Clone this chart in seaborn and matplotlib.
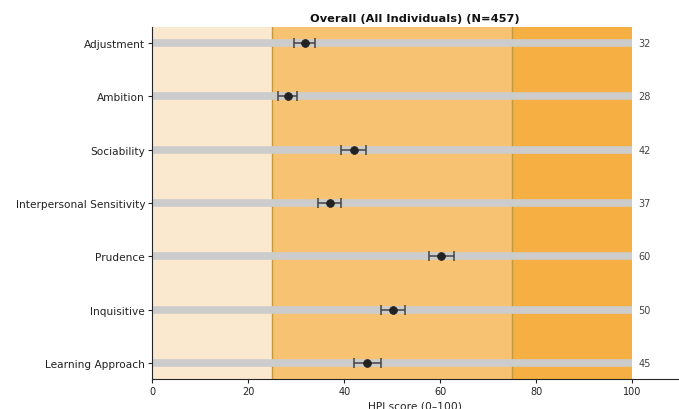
import matplotlib
matplotlib.use("Agg")
import matplotlib.pyplot as plt
import seaborn as sns
import pandas as pd

scales = ["Adjustment", "Ambition", "Sociability", "Interpersonal Sensitivity",
          "Prudence", "Inquisitive", "Learning Approach"]
means = [31.8, 28.2, 42.0, 37.0, 60.2, 50.2, 44.8]
errs = [2.2, 1.9, 2.6, 2.4, 2.6, 2.5, 2.8]
labels = [32, 28, 42, 37, 60, 50, 45]
bands = [(0, 25, "#fbe9cf"), (25, 75, "#f7c372"), (75, 100, "#f5af42")]

df = pd.DataFrame({"scale": scales, "mean": means, "err": errs})

sns.set_style("ticks")
fig = plt.figure(figsize=(6.79, 4.10), dpi=100)
ax = fig.add_axes([0.224, 0.073, 0.7745, 0.859])

for lo, hi, c in bands:
    ax.axvspan(lo, hi, color=c, zorder=0, lw=0)
for x in (25, 75):
    ax.axvline(x, color="#c39a3c", lw=1.0, zorder=0.5)

ypos = list(range(len(scales)))
ax.hlines(ypos, 0, 100, color="#cccccc", lw=5.5, zorder=1)
ax.errorbar(df["mean"], ypos, xerr=df["err"], fmt="none", ecolor="#444444",
            elinewidth=1.1, capsize=3.5, capthick=1.1, zorder=2)
sns.scatterplot(data=df, x="mean", y=ypos, color="#222222", s=32, ax=ax,
                zorder=3, edgecolor="#222222", linewidth=0.5)

for y, lab in zip(ypos, labels):
    ax.text(101.3, y, str(lab), va="center", ha="left", fontsize=7, color="#444444")

ax.set_yticks(ypos)
ax.set_yticklabels(scales, fontsize=7.6, color="#222222")
ax.set_ylim(6.3, -0.3)
ax.set_xlim(0, 109.5)
ax.set_xticks([0, 20, 40, 60, 80, 100])
ax.tick_params(axis="x", labelsize=7, length=3, pad=2, labelcolor="#222222")
ax.tick_params(axis="y", length=3, pad=2)
ax.set_xlabel("HPI score (0\u2013100)", fontsize=7.7, labelpad=3, color="#222222")
ax.set_ylabel("")
ax.set_title("Overall (All Individuals) (N=457)", fontsize=8.2, fontweight="bold",
             pad=4, color="#111111")
sns.despine(ax=ax)

fig.savefig("out.png", dpi=100)
